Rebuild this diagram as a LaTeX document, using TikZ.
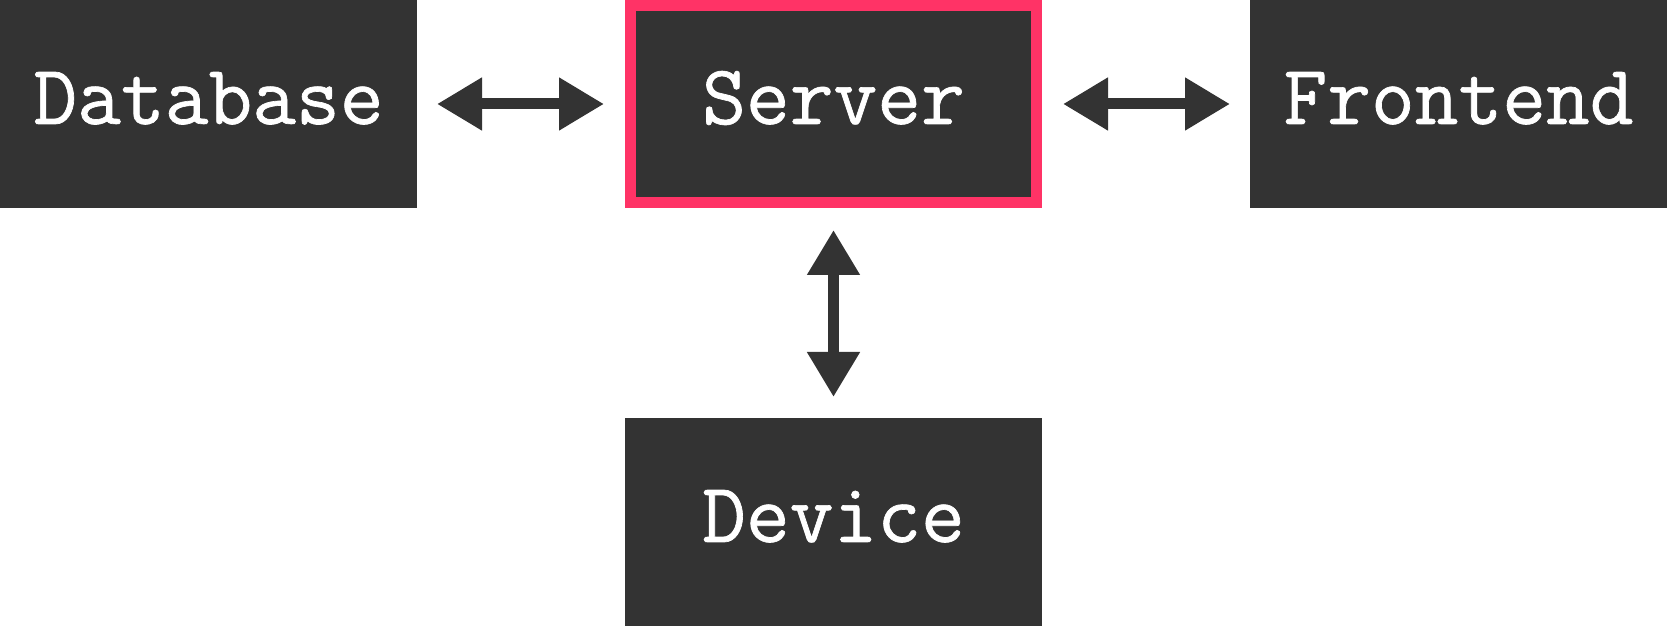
\documentclass[tikz,border=0pt]{standalone}
\usepackage{fontspec}
\usetikzlibrary{arrows.meta}
\newfontfamily\labelfont{Latin Modern Mono}[FakeBold=0.8]
\definecolor{boxgray}{HTML}{333333}
\definecolor{accent}{HTML}{FF3366}
\tikzset{
  block/.style={rectangle, fill=boxgray, inner sep=0pt, outer sep=0pt,
    minimum width=208.5pt, minimum height=104pt, text=white,
    font=\labelfont\fontsize{42.5}{50}\selectfont,
    text height=26pt, text depth=6pt},
  focus/.style={draw=accent, line width=5.3pt,
    minimum width=203.2pt, minimum height=98.7pt, outer sep=2.65pt},
  link/.style={draw=boxgray, line width=5.5pt,
    {Triangle[length=22.5pt,width=25pt]}-{Triangle[length=22.5pt,width=25pt]}}
}
\begin{document}
\begin{tikzpicture}[x=0.5pt,y=0.5pt]
  \useasboundingbox (0,0) rectangle (1667,626);
  \node[block] (db) at (208.5,522) {Database};
  \node[block,focus] (srv) at (833.5,522) {Server};
  \node[block] (fe) at (1458.5,522) {Frontend};
  \node[block] (dev) at (833.5,104) {Device};
  \draw[link, shorten <=10pt, shorten >=10.5pt] (db.east) -- (srv.west);
  \draw[link, shorten <=10.5pt, shorten >=10pt] (srv.east) -- (fe.west);
  \draw[link, shorten <=11pt, shorten >=10.5pt] (srv.south) -- (dev.north);
\end{tikzpicture}
\end{document}
